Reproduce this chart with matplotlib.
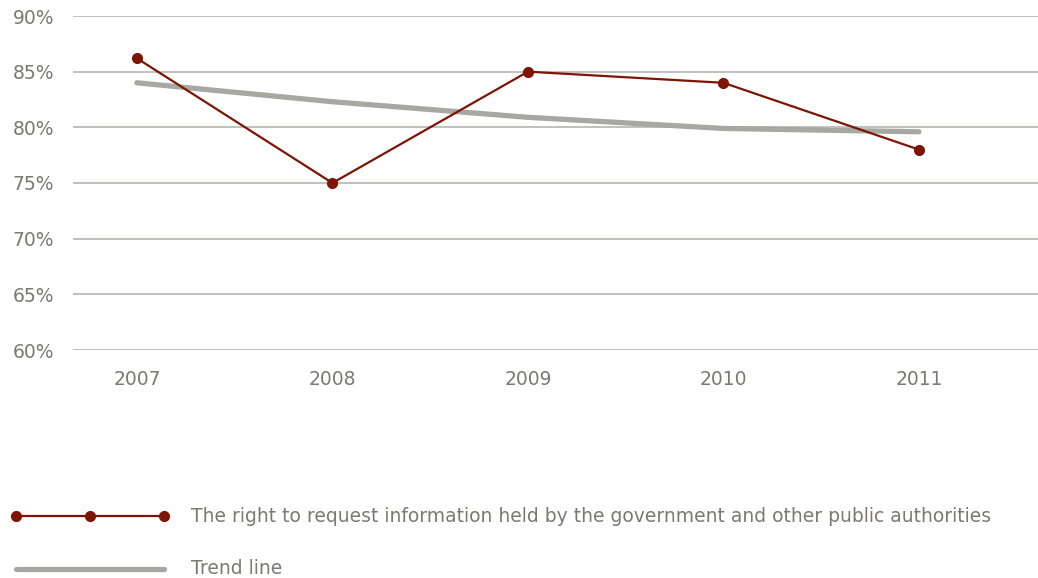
import matplotlib
matplotlib.use("Agg")
import matplotlib.pyplot as plt
from matplotlib.lines import Line2D
from matplotlib.ticker import FuncFormatter

plt.rcParams["font.family"] = ["DejaVu Sans"]

years = [2007, 2008, 2009, 2010, 2011]
right_to_request = [86.2, 75.0, 85.0, 84.0, 78.0]
trend_line = [84.0, 82.3, 80.9, 79.9, 79.6]
y_ticks = [60, 65, 70, 75, 80, 85, 90]
series_label = "The right to request information held by the government and other public authorities"
trend_label = "Trend line"

RED = "#7d1404"
TREND = "#a8a8a3"
GRID = "#b5b5b1"
TEXT = "#7a7a72"
FS = 13.5

W, H = 1038, 578
fig = plt.figure(figsize=(W / 100, H / 100), dpi=100)
ax = fig.add_axes([73 / W, 1 - 350 / H, 1 - 73 / W, (350 - 16) / H])

ax.plot(years, trend_line, color=TREND, lw=3.8, solid_capstyle="round",
        solid_joinstyle="round", zorder=2)
ax.plot(years, right_to_request, color=RED, lw=1.6, marker="o", ms=7,
        zorder=3)

ax.set_ylim(60, 90)
ax.set_xlim(2006.673, 2011.609)
ax.set_yticks(y_ticks)
ax.yaxis.set_major_formatter(FuncFormatter(lambda v, p: f"{v:.0f}%"))
ax.set_xticks(years)
ax.set_xticklabels([str(y) for y in years])
ax.grid(axis="y", color=GRID, lw=1.2)
ax.set_axisbelow(True)
for s in ax.spines.values():
    s.set_visible(False)
ax.tick_params(axis="both", length=0, labelsize=FS, colors=TEXT)
ax.tick_params(axis="y", pad=13.5)
ax.tick_params(axis="x", pad=14.5)

# legend drawn in figure pixel coordinates
def fx(px):
    return px / W

def fy(py):
    return 1 - py / H

fig.add_artist(Line2D([fx(16), fx(90), fx(164)], [fy(516)] * 3, color=RED,
                      lw=1.6, marker="o", ms=7, transform=fig.transFigure))
fig.text(fx(191), fy(516), series_label, color=TEXT, fontsize=FS,
         va="center", ha="left")
fig.add_artist(Line2D([fx(16), fx(164)], [fy(569)] * 2, color=TREND,
                      lw=3.8, solid_capstyle="round",
                      transform=fig.transFigure))
fig.text(fx(191), fy(569), trend_label, color=TEXT, fontsize=FS,
         va="center", ha="left")

fig.savefig("out.png", dpi=100)
